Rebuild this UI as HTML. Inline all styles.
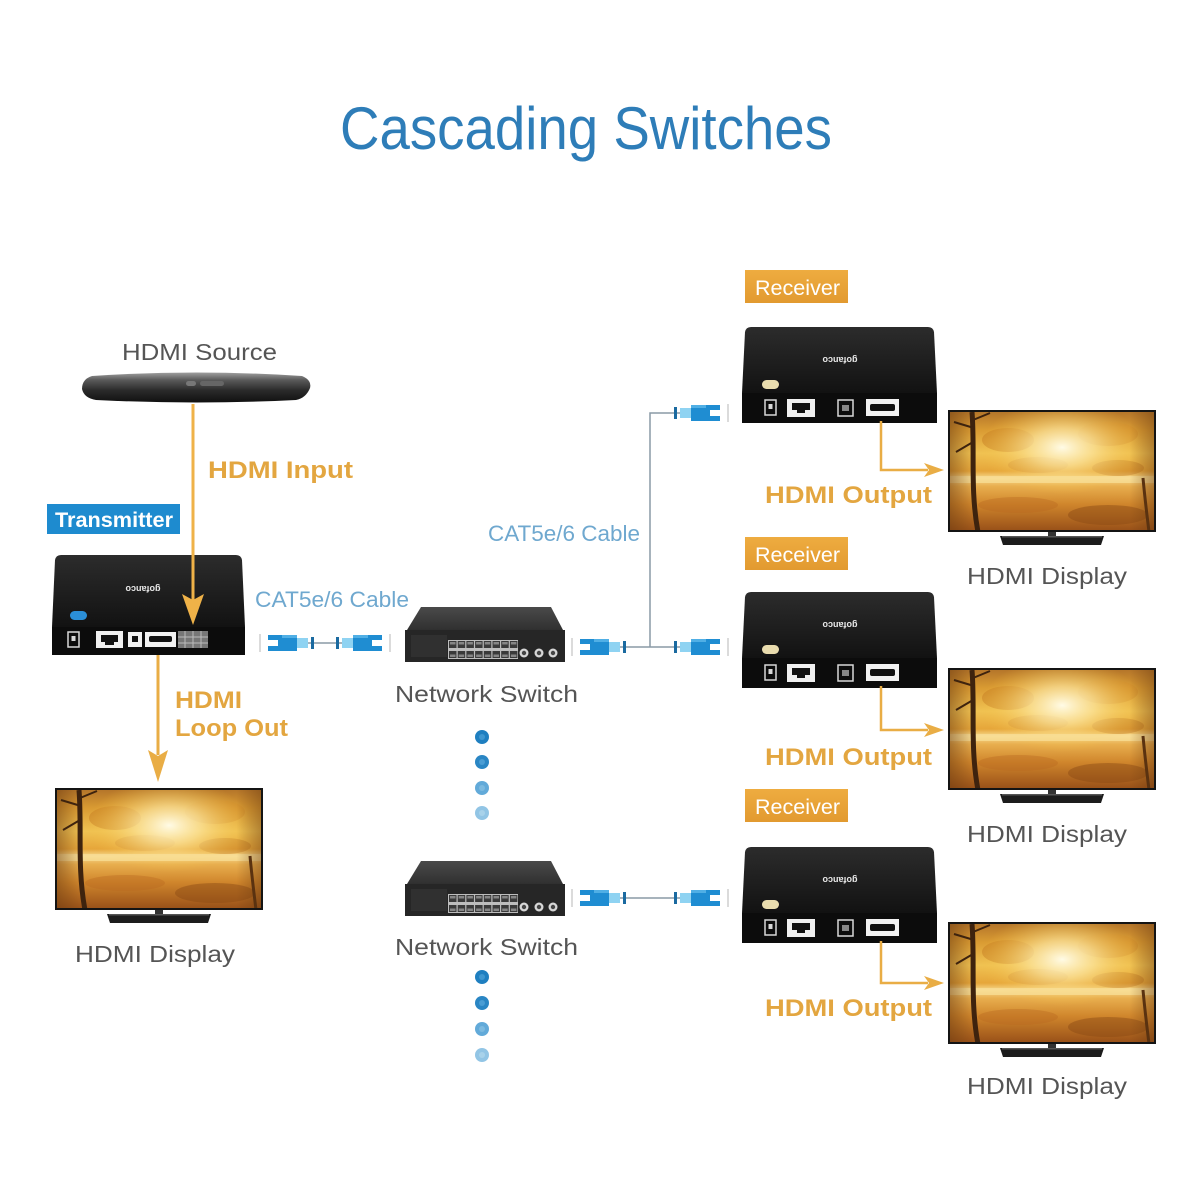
<!DOCTYPE html>
<html>
<head>
<meta charset="utf-8">
<style>
html,body{margin:0;padding:0;background:#ffffff;width:1200px;height:1200px;overflow:hidden}
svg{display:block}
</style>
</head>
<body>
<svg width="1200" height="1200" viewBox="0 0 1200 1200" xmlns="http://www.w3.org/2000/svg">
<defs>
  <linearGradient id="aut" x1="0" y1="0" x2="0" y2="1">
    <stop offset="0" stop-color="#b5762a"/>
    <stop offset="0.15" stop-color="#d99a32"/>
    <stop offset="0.35" stop-color="#f0c252"/>
    <stop offset="0.5" stop-color="#e6a63a"/>
    <stop offset="0.56" stop-color="#f6d88c"/>
    <stop offset="0.63" stop-color="#e8ae4e"/>
    <stop offset="0.78" stop-color="#d0862c"/>
    <stop offset="1" stop-color="#9a5219"/>
  </linearGradient>
  <radialGradient id="sun" cx="0.55" cy="0.3" r="0.4">
    <stop offset="0" stop-color="#fffbe6" stop-opacity="1"/>
    <stop offset="0.4" stop-color="#fde7a0" stop-opacity="0.7"/>
    <stop offset="1" stop-color="#f5c040" stop-opacity="0"/>
  </radialGradient>
  <linearGradient id="edge" x1="0" y1="0" x2="1" y2="0">
    <stop offset="0" stop-color="#6a3a10" stop-opacity="0.5"/>
    <stop offset="0.12" stop-color="#6a3a10" stop-opacity="0"/>
    <stop offset="0.88" stop-color="#6a3a10" stop-opacity="0"/>
    <stop offset="1" stop-color="#6a3a10" stop-opacity="0.45"/>
  </linearGradient>
  <clipPath id="scr"><rect x="2" y="2" width="204" height="118"/></clipPath>
  <linearGradient id="boxTop" x1="0" y1="0" x2="0" y2="1">
    <stop offset="0" stop-color="#2c2c2c"/>
    <stop offset="1" stop-color="#121212"/>
  </linearGradient>
  <linearGradient id="swTop" x1="0" y1="0" x2="0" y2="1">
    <stop offset="0" stop-color="#4a4a4a"/>
    <stop offset="1" stop-color="#303030"/>
  </linearGradient>
  <linearGradient id="src" x1="0" y1="0" x2="0" y2="1">
    <stop offset="0" stop-color="#a0a0a0"/>
    <stop offset="0.25" stop-color="#5a5a5a"/>
    <stop offset="0.6" stop-color="#2a2a2a"/>
    <stop offset="1" stop-color="#101010"/>
  </linearGradient>
  <linearGradient id="orgBox" x1="0" y1="0" x2="0" y2="1">
    <stop offset="0" stop-color="#eeac40"/>
    <stop offset="1" stop-color="#e29a30"/>
  </linearGradient>

  <!-- TV -->
  <g id="tv">
    <rect x="0" y="0" width="208" height="122" fill="#141414"/>
    <g clip-path="url(#scr)">
      <rect x="2" y="2" width="204" height="118" fill="url(#aut)"/>
      <ellipse cx="60" cy="30" rx="26" ry="12" fill="#c47a22" opacity="0.45"/>
      <ellipse cx="160" cy="24" rx="30" ry="12" fill="#d08a2a" opacity="0.4"/>
      <ellipse cx="90" cy="55" rx="30" ry="8" fill="#c9802a" opacity="0.35"/>
      <ellipse cx="170" cy="58" rx="26" ry="8" fill="#b8701f" opacity="0.35"/>
      <rect x="2" y="2" width="204" height="118" fill="url(#sun)"/>
      <rect x="2" y="66" width="204" height="7" fill="#f8df98" opacity="0.75"/>
      <ellipse cx="70" cy="95" rx="40" ry="8" fill="#b86a20" opacity="0.4"/>
      <ellipse cx="160" cy="105" rx="40" ry="10" fill="#8a4a15" opacity="0.45"/>
      <rect x="2" y="2" width="204" height="118" fill="url(#edge)"/>
      <path d="M24,2 C27,40 22,80 30,122" stroke="#3e230e" stroke-width="5" fill="none"/>
      <path d="M26,18 L6,12 M25,10 L42,3 M25,32 L8,42" stroke="#3e230e" stroke-width="2" fill="none"/>
      <path d="M195,68 C197,90 199,105 201,122" stroke="#5a3210" stroke-width="3" fill="none"/>
    </g>
    <rect x="100" y="122" width="8" height="5" fill="#333"/>
    <path d="M52,126 H156 L153,135 H55 Z" fill="#1c1c1c"/>
    <rect x="54" y="126" width="100" height="1.5" fill="#555"/>
  </g>

  <!-- Receiver -->
  <g id="rx">
    <path d="M9,0 H186 Q191,0 192,5 L195,66 H0 L3,5 Q4,0 9,0 Z" fill="url(#boxTop)"/>
    <rect x="0" y="66" width="195" height="30" fill="#0c0c0c"/>
    <rect x="20" y="53" width="17" height="9" rx="4.5" fill="#e9dcae"/>
    <rect x="23" y="73" width="11" height="15" fill="none" stroke="#d8d8d8" stroke-width="1.5"/>
    <rect x="26.5" y="77" width="4" height="5" fill="#d8d8d8"/>
    <rect x="45" y="72" width="28" height="18" fill="#f0f0f0"/>
    <rect x="50" y="76" width="18" height="7" fill="#111"/>
    <rect x="55" y="83" width="8" height="3" fill="#111"/>
    <rect x="96" y="73" width="15" height="16" fill="none" stroke="#d8d8d8" stroke-width="1.5"/>
    <rect x="100" y="78" width="7" height="6" fill="#d8d8d8" opacity="0.6"/>
    <rect x="124" y="72" width="33" height="17" fill="#f2f2f2"/>
    <rect x="128" y="77" width="25" height="7" rx="2" fill="#111"/>
    <text x="0" y="0" transform="translate(98,30) rotate(180)" font-family="Liberation Sans, sans-serif" font-size="9" font-weight="bold" fill="#e8e8e8" text-anchor="middle">gofanco</text>
  </g>

  <!-- Switch -->
  <g id="sw">
    <polygon points="16,0 146,0 158,23 2,23" fill="url(#swTop)"/>
    <rect x="0" y="23" width="160" height="32" fill="#262626"/>
    <rect x="6" y="28" width="36" height="22" fill="#303030"/>
    <rect x="43" y="33" width="70" height="19" fill="#bdbdbd"/>
    <g fill="#3a3a3a">
      <rect x="44" y="34" width="7.5" height="7"/><rect x="52.7" y="34" width="7.5" height="7"/><rect x="61.4" y="34" width="7.5" height="7"/><rect x="70.1" y="34" width="7.5" height="7"/>
      <rect x="78.8" y="34" width="7.5" height="7"/><rect x="87.5" y="34" width="7.5" height="7"/><rect x="96.2" y="34" width="7.5" height="7"/><rect x="104.9" y="34" width="7.5" height="7"/>
      <rect x="44" y="44" width="7.5" height="7"/><rect x="52.7" y="44" width="7.5" height="7"/><rect x="61.4" y="44" width="7.5" height="7"/><rect x="70.1" y="44" width="7.5" height="7"/>
      <rect x="78.8" y="44" width="7.5" height="7"/><rect x="87.5" y="44" width="7.5" height="7"/><rect x="96.2" y="44" width="7.5" height="7"/><rect x="104.9" y="44" width="7.5" height="7"/>
    </g>
    <g fill="#9a9a9a" opacity="0.8">
      <rect x="45" y="35" width="5.5" height="2.5"/><rect x="53.7" y="35" width="5.5" height="2.5"/><rect x="62.4" y="35" width="5.5" height="2.5"/><rect x="71.1" y="35" width="5.5" height="2.5"/>
      <rect x="79.8" y="35" width="5.5" height="2.5"/><rect x="88.5" y="35" width="5.5" height="2.5"/><rect x="97.2" y="35" width="5.5" height="2.5"/><rect x="105.9" y="35" width="5.5" height="2.5"/>
      <rect x="45" y="47.5" width="5.5" height="2.5"/><rect x="53.7" y="47.5" width="5.5" height="2.5"/><rect x="62.4" y="47.5" width="5.5" height="2.5"/><rect x="71.1" y="47.5" width="5.5" height="2.5"/>
      <rect x="79.8" y="47.5" width="5.5" height="2.5"/><rect x="88.5" y="47.5" width="5.5" height="2.5"/><rect x="97.2" y="47.5" width="5.5" height="2.5"/><rect x="105.9" y="47.5" width="5.5" height="2.5"/>
    </g>
    <circle cx="119" cy="46" r="4.5" fill="#d6d6d6"/><circle cx="119" cy="46" r="2.2" fill="#444"/>
    <circle cx="134" cy="46" r="4.5" fill="#d6d6d6"/><circle cx="134" cy="46" r="2.2" fill="#444"/>
    <circle cx="148" cy="46" r="4.5" fill="#d6d6d6"/><circle cx="148" cy="46" r="2.2" fill="#444"/>
  </g>

  <!-- Plug (tip facing left, origin at bracket) -->
  <g id="plug">
    <line x1="0" y1="-9" x2="0" y2="9" stroke="#cfcfcf" stroke-width="1.5"/>
    <path d="M8,-8 H37 V8 H8 V3 H18 V-3 H8 Z" fill="#1f8dd2"/>
    <rect x="22" y="-8" width="15" height="3" fill="#5cb8ea" opacity="0.8"/>
    <rect x="37" y="-5" width="11" height="10" fill="#8fd3f2"/>
    <rect x="51" y="-6" width="3" height="12" fill="#1b6aa0"/>
  </g>
</defs>

<!-- Title -->
<text x="340" y="149" font-family="Liberation Sans, sans-serif" font-size="60" fill="#2e7db8" textLength="492" lengthAdjust="spacingAndGlyphs">Cascading Switches</text>

<!-- HDMI Source -->
<text x="122" y="360" font-family="Liberation Sans, sans-serif" font-size="23" fill="#555" textLength="155" lengthAdjust="spacingAndGlyphs">HDMI Source</text>
<path d="M92,376 Q196,369 302,376 Q312,380 310,388 Q306,398 296,400 Q196,405 96,400 Q84,398 82,389 Q82,379 92,376 Z" fill="url(#src)"/>
<rect x="186" y="381" width="10" height="5" rx="2.5" fill="#777"/>
<rect x="200" y="381" width="24" height="5" rx="2.5" fill="#666"/>

<!-- HDMI Input label -->
<text x="208" y="478" font-family="Liberation Sans, sans-serif" font-size="24" font-weight="bold" fill="#e3a640" textLength="145" lengthAdjust="spacingAndGlyphs">HDMI Input</text>

<!-- Transmitter label -->
<rect x="47" y="504" width="133" height="30" fill="#1e8bcf"/>
<text x="55" y="527" font-family="Liberation Sans, sans-serif" font-size="21" font-weight="bold" fill="#ffffff" textLength="118" lengthAdjust="spacingAndGlyphs">Transmitter</text>

<!-- Transmitter box -->
<g transform="translate(52,555)">
  <path d="M9,0 H184 Q189,0 190,5 L193,72 H0 L3,5 Q4,0 9,0 Z" fill="url(#boxTop)"/>
  <rect x="0" y="72" width="193" height="28" fill="#0c0c0c"/>
  <rect x="18" y="56" width="17" height="9" rx="4.5" fill="#2b8fd8"/>
  <rect x="16" y="77" width="11" height="15" fill="none" stroke="#d8d8d8" stroke-width="1.5"/>
  <rect x="19.5" y="81" width="4" height="5" fill="#d8d8d8"/>
  <rect x="44" y="76" width="27" height="17" fill="#f0f0f0"/>
  <rect x="49" y="80" width="17" height="7" fill="#111"/>
  <rect x="53" y="87" width="9" height="3" fill="#111"/>
  <rect x="76" y="77" width="14" height="15" fill="#f0f0f0"/>
  <rect x="80" y="81" width="6" height="6" fill="#111"/>
  <rect x="93" y="77" width="31" height="15" fill="#f2f2f2"/>
  <rect x="97" y="81" width="23" height="6" rx="2" fill="#111"/>
  <rect x="126" y="76" width="30" height="17" fill="#777"/>
  <g stroke="#bbb" stroke-width="1">
    <line x1="126" y1="82" x2="156" y2="82"/><line x1="126" y1="88" x2="156" y2="88"/>
    <line x1="133" y1="76" x2="133" y2="93"/><line x1="141" y1="76" x2="141" y2="93"/><line x1="149" y1="76" x2="149" y2="93"/>
  </g>
  <text x="0" y="0" transform="translate(91,31) rotate(180)" font-family="Liberation Sans, sans-serif" font-size="9" font-weight="bold" fill="#e8e8e8" text-anchor="middle">gofanco</text>
</g>

<!-- HDMI input arrow -->
<line x1="193" y1="404" x2="193" y2="600" stroke="#efb248" stroke-width="3"/>
<path d="M182,594 L193,600 L204,594 L193,625 Z" fill="#efb248"/>

<!-- Loop out arrow -->
<line x1="158" y1="655" x2="158" y2="755" stroke="#e9ad45" stroke-width="3"/>
<path d="M148,750 L158,756 L168,750 L158,782 Z" fill="#e9ad45"/>
<text x="175" y="708" font-family="Liberation Sans, sans-serif" font-size="24" font-weight="bold" fill="#e3a640" textLength="67" lengthAdjust="spacingAndGlyphs">HDMI</text>
<text x="175" y="736" font-family="Liberation Sans, sans-serif" font-size="24" font-weight="bold" fill="#e3a640" textLength="113" lengthAdjust="spacingAndGlyphs">Loop Out</text>

<!-- Left TV -->
<use href="#tv" transform="translate(55,788)"/>
<text x="75" y="962" font-family="Liberation Sans, sans-serif" font-size="23" fill="#555" textLength="160" lengthAdjust="spacingAndGlyphs">HDMI Display</text>

<!-- Cable A -->
<text x="255" y="607" font-family="Liberation Sans, sans-serif" font-size="22" fill="#6fa8cf" textLength="154" lengthAdjust="spacingAndGlyphs">CAT5e/6 Cable</text>
<line x1="306" y1="643" x2="344" y2="643" stroke="#8a9aa6" stroke-width="1.5"/>
<use href="#plug" transform="translate(260,643)"/>
<use href="#plug" transform="translate(390,643) scale(-1,1)"/>

<!-- Switch 1 -->
<use href="#sw" transform="translate(405,607)"/>
<text x="395" y="702" font-family="Liberation Sans, sans-serif" font-size="23" fill="#555" textLength="183" lengthAdjust="spacingAndGlyphs">Network Switch</text>

<!-- Cable B + C -->
<text x="488" y="541" font-family="Liberation Sans, sans-serif" font-size="22" fill="#6fa8cf" textLength="152" lengthAdjust="spacingAndGlyphs">CAT5e/6 Cable</text>
<polyline points="620,647 682,647" fill="none" stroke="#8a9aa6" stroke-width="1.5"/>
<polyline points="650,647 650,413 682,413" fill="none" stroke="#8a9aa6" stroke-width="1.5"/>
<use href="#plug" transform="translate(572,647)"/>
<use href="#plug" transform="translate(728,647) scale(-1,1)"/>
<use href="#plug" transform="translate(728,413) scale(-1,1)"/>

<!-- Dots 1 -->
<circle cx="482" cy="737" r="7" fill="#1f7fc0"/><circle cx="482" cy="737" r="3" fill="#3f97d0"/>
<circle cx="482" cy="762" r="7" fill="#2a86c4"/><circle cx="482" cy="762" r="3" fill="#4a9dd4"/>
<circle cx="482" cy="788" r="7" fill="#62aad9"/><circle cx="482" cy="788" r="3" fill="#7cbae0"/>
<circle cx="482" cy="813" r="7" fill="#92c5e5"/><circle cx="482" cy="813" r="3" fill="#a8d2ea"/>

<!-- Switch 2 -->
<use href="#sw" transform="translate(405,861)"/>
<text x="395" y="955" font-family="Liberation Sans, sans-serif" font-size="23" fill="#555" textLength="183" lengthAdjust="spacingAndGlyphs">Network Switch</text>
<line x1="620" y1="898" x2="682" y2="898" stroke="#8a9aa6" stroke-width="1.5"/>
<use href="#plug" transform="translate(572,898)"/>
<use href="#plug" transform="translate(728,898) scale(-1,1)"/>

<!-- Dots 2 -->
<circle cx="482" cy="977" r="7" fill="#1f7fc0"/><circle cx="482" cy="977" r="3" fill="#3f97d0"/>
<circle cx="482" cy="1003" r="7" fill="#2a86c4"/><circle cx="482" cy="1003" r="3" fill="#4a9dd4"/>
<circle cx="482" cy="1029" r="7" fill="#62aad9"/><circle cx="482" cy="1029" r="3" fill="#7cbae0"/>
<circle cx="482" cy="1055" r="7" fill="#92c5e5"/><circle cx="482" cy="1055" r="3" fill="#a8d2ea"/>

<!-- Receiver 1 -->
<rect x="745" y="270" width="103" height="33" fill="url(#orgBox)"/>
<text x="755" y="295" font-family="Liberation Sans, sans-serif" font-size="21" fill="#ffffff" textLength="85" lengthAdjust="spacingAndGlyphs">Receiver</text>
<use href="#rx" transform="translate(742,327)"/>
<polyline points="881,421 881,470 928,470" fill="none" stroke="#e9ad45" stroke-width="2.5"/>
<path d="M924,463 L929,470 L924,477 L944,470 Z" fill="#e9ad45"/>
<text x="765" y="503" font-family="Liberation Sans, sans-serif" font-size="24" font-weight="bold" fill="#e3a640" textLength="167" lengthAdjust="spacingAndGlyphs">HDMI Output</text>
<use href="#tv" transform="translate(948,410)"/>
<text x="967" y="584" font-family="Liberation Sans, sans-serif" font-size="23" fill="#555" textLength="160" lengthAdjust="spacingAndGlyphs">HDMI Display</text>

<!-- Receiver 2 -->
<rect x="745" y="537" width="103" height="33" fill="url(#orgBox)"/>
<text x="755" y="562" font-family="Liberation Sans, sans-serif" font-size="21" fill="#ffffff" textLength="85" lengthAdjust="spacingAndGlyphs">Receiver</text>
<use href="#rx" transform="translate(742,592)"/>
<polyline points="881,686 881,730 928,730" fill="none" stroke="#e9ad45" stroke-width="2.5"/>
<path d="M924,723 L929,730 L924,737 L944,730 Z" fill="#e9ad45"/>
<text x="765" y="765" font-family="Liberation Sans, sans-serif" font-size="24" font-weight="bold" fill="#e3a640" textLength="167" lengthAdjust="spacingAndGlyphs">HDMI Output</text>
<use href="#tv" transform="translate(948,668)"/>
<text x="967" y="842" font-family="Liberation Sans, sans-serif" font-size="23" fill="#555" textLength="160" lengthAdjust="spacingAndGlyphs">HDMI Display</text>

<!-- Receiver 3 -->
<rect x="745" y="789" width="103" height="33" fill="url(#orgBox)"/>
<text x="755" y="814" font-family="Liberation Sans, sans-serif" font-size="21" fill="#ffffff" textLength="85" lengthAdjust="spacingAndGlyphs">Receiver</text>
<use href="#rx" transform="translate(742,847)"/>
<polyline points="881,941 881,983 928,983" fill="none" stroke="#e9ad45" stroke-width="2.5"/>
<path d="M924,976 L929,983 L924,990 L944,983 Z" fill="#e9ad45"/>
<text x="765" y="1016" font-family="Liberation Sans, sans-serif" font-size="24" font-weight="bold" fill="#e3a640" textLength="167" lengthAdjust="spacingAndGlyphs">HDMI Output</text>
<use href="#tv" transform="translate(948,922)"/>
<text x="967" y="1094" font-family="Liberation Sans, sans-serif" font-size="23" fill="#555" textLength="160" lengthAdjust="spacingAndGlyphs">HDMI Display</text>

</svg>
</body>
</html>
